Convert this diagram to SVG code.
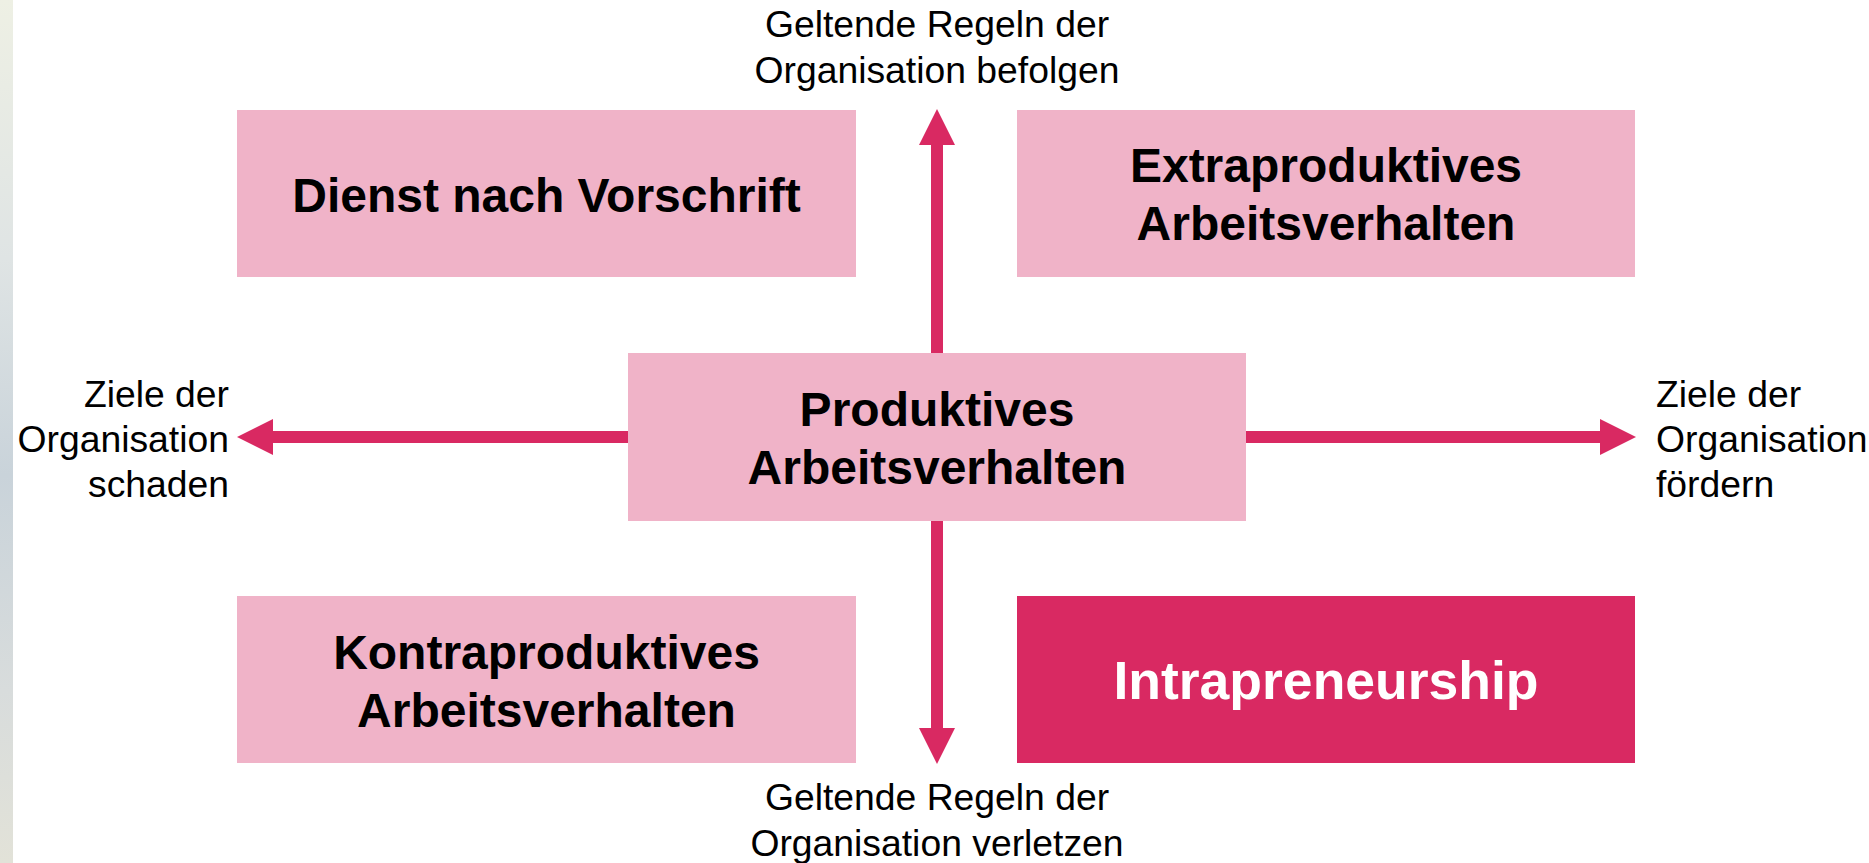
<svg xmlns="http://www.w3.org/2000/svg" width="1869" height="863" viewBox="0 0 1869 863">
<style>
.box{fill:#F0B3C8}
.hi{fill:#D92962}
.bt{font-family:"Liberation Sans",Arial,sans-serif;font-weight:bold;font-size:48px;fill:#000;text-anchor:middle}
.wt{font-family:"Liberation Sans",Arial,sans-serif;font-weight:bold;font-size:53.5px;fill:#fff;text-anchor:middle}
.lt{font-family:"Liberation Sans",Arial,sans-serif;font-size:37.3px;fill:#000}
.ax{stroke:#D92962;stroke-width:12;fill:none}
</style>
<defs>
<linearGradient id="strip" x1="0" y1="0" x2="0" y2="1">
<stop offset="0" stop-color="#eef0e4"/>
<stop offset="0.3" stop-color="#dfe4e4"/>
<stop offset="0.55" stop-color="#c9d3da"/>
<stop offset="0.8" stop-color="#d8dcdc"/>
<stop offset="1" stop-color="#e2e2d8"/>
</linearGradient>
<marker id="ah" viewBox="0 0 36 36" markerWidth="36" markerHeight="36" refX="0" refY="18" orient="auto" markerUnits="userSpaceOnUse">
<path d="M0,0 L36,18 L0,36 z" fill="#D92962"/>
</marker>
</defs>
<rect x="0" y="0" width="1869" height="863" fill="#fff"/>
<rect x="0" y="0" width="13" height="863" fill="url(#strip)"/>
<g id="connectors">
<line class="ax" x1="937" y1="437" x2="937" y2="145" marker-end="url(#ah)"/>
<line class="ax" x1="937" y1="437" x2="937" y2="728" marker-end="url(#ah)"/>
<line class="ax" x1="937" y1="437" x2="273" y2="437" marker-end="url(#ah)"/>
<line class="ax" x1="937" y1="437" x2="1600" y2="437" marker-end="url(#ah)"/>
</g>
<g id="dienst">
<rect class="box" x="237" y="110" width="619" height="167"/>
<text class="bt" x="546.5" y="212">Dienst nach Vorschrift</text>
</g>
<g id="extra">
<rect class="box" x="1017" y="110" width="618" height="167"/>
<text class="bt" x="1326" y="182">Extraproduktives</text>
<text class="bt" x="1326" y="240">Arbeitsverhalten</text>
</g>
<g id="produktiv">
<rect class="box" x="628" y="353" width="618" height="168"/>
<text class="bt" x="937" y="426">Produktives</text>
<text class="bt" x="937" y="484">Arbeitsverhalten</text>
</g>
<g id="kontra">
<rect class="box" x="237" y="596" width="619" height="167"/>
<text class="bt" x="546.5" y="669">Kontraproduktives</text>
<text class="bt" x="546.5" y="727">Arbeitsverhalten</text>
</g>
<g id="intra">
<rect class="hi" x="1017" y="596" width="618" height="167"/>
<text class="wt" x="1326" y="699">Intrapreneurship</text>
</g>
<g id="label-top">
<text class="lt" x="937" y="37" text-anchor="middle">Geltende Regeln der</text>
<text class="lt" x="937" y="83" text-anchor="middle">Organisation befolgen</text>
</g>
<g id="label-bottom">
<text class="lt" x="937" y="810" text-anchor="middle">Geltende Regeln der</text>
<text class="lt" x="937" y="856" text-anchor="middle">Organisation verletzen</text>
</g>
<g id="label-left">
<text class="lt" x="229" y="407" text-anchor="end">Ziele der</text>
<text class="lt" x="229" y="452" text-anchor="end">Organisation</text>
<text class="lt" x="229" y="497" text-anchor="end">schaden</text>
</g>
<g id="label-right">
<text class="lt" x="1656" y="407">Ziele der</text>
<text class="lt" x="1656" y="452">Organisation</text>
<text class="lt" x="1656" y="497">fördern</text>
</g>
</svg>
